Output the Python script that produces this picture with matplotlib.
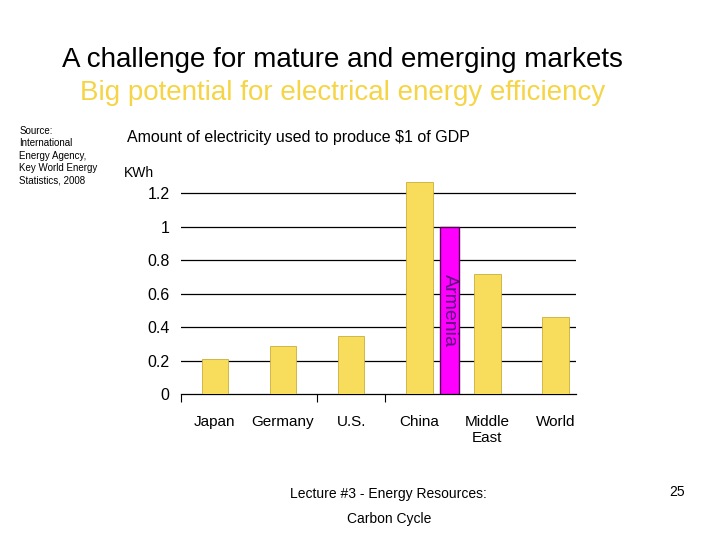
import matplotlib.pyplot as plt

plt.rcParams["font.family"] = ["Liberation Sans", "DejaVu Sans"]

# data
regions = ["Japan", "Germany", "U.S.", "China", "Middle\nEast", "World"]
kwh_per_dollar = [0.21, 0.29, 0.35, 1.27, 0.72, 0.46]
armenia_value = 1.0
armenia_pos = 3.45
y_ticks = [0, 0.2, 0.4, 0.6, 0.8, 1, 1.2]
y_tick_labels = ["0", "0.2", "0.4", "0.6", "0.8", "1", "1.2"]
boundary_ticks = [-0.5, 1.5, 2.5]

bar_color = "#F8DC5C"
title_gold = "#F5D547"

fig = plt.figure(figsize=(7.2, 5.4), dpi=100)
ax = fig.add_axes([0.251, 0.2698, 0.549, 0.394])

ax.bar(range(len(regions)), kwh_per_dollar, width=0.39,
       color=bar_color, edgecolor="#C9AE3A", linewidth=0.6, zorder=3)
ax.bar(armenia_pos, armenia_value, width=0.28,
       color="#FF00FF", edgecolor="#5A005A", linewidth=1.0, zorder=3)
ax.text(armenia_pos, 0.5, "Armenia", rotation=-90, ha="center", va="center",
        fontsize=14, color="#5E0A80", zorder=4)

ax.set_xlim(-0.5, 5.3)
ax.set_ylim(0, 1.27)
ax.set_yticks(y_ticks)
ax.set_yticklabels(y_tick_labels, fontsize=11.5)
ax.set_xticks(range(len(regions)))
ax.set_xticklabels(regions, fontsize=11)
ax.tick_params(axis="x", length=0, pad=15)
ax.set_xticks(boundary_ticks, minor=True)
ax.tick_params(axis="x", which="minor", length=6, width=0.8, color="black")
ax.tick_params(axis="y", length=0, pad=8)

for y in y_ticks[1:]:
    ax.axhline(y, color="black", linewidth=0.9, zorder=1)

for side in ["top", "right", "left"]:
    ax.spines[side].set_visible(False)
ax.spines["bottom"].set_linewidth(0.9)

fig.text(0.476, 0.889, "A challenge for mature and emerging markets",
         ha="center", va="center", fontsize=20, color="black")
fig.text(0.476, 0.828, "Big potential for electrical energy efficiency",
         ha="center", va="center", fontsize=20, color=title_gold)
fig.text(0.176, 0.746, "Amount of electricity used to produce $1 of GDP",
         ha="left", va="center", fontsize=11.5)
fig.text(0.172, 0.679, "KWh", ha="left", va="center", fontsize=10)
fig.text(0.027, 0.712,
         "Source:\nInternational\nEnergy Agency,\nKey World Energy\nStatistics, 2008",
         ha="left", va="center", fontsize=7, linespacing=1.3)
fig.text(0.54, 0.062, "Lecture #3 - Energy Resources:\nCarbon Cycle",
         ha="center", va="center", fontsize=10, linespacing=1.95)
fig.text(0.93, 0.088, "25", ha="left", va="center", fontsize=10)

fig.savefig("out.png", dpi=100)
